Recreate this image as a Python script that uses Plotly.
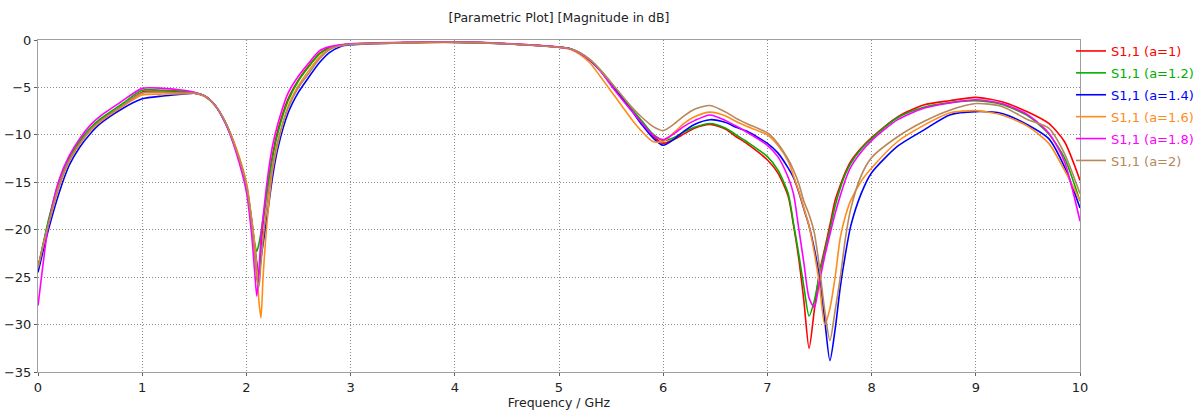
import plotly.graph_objects as go

# Frequency grid (GHz)
FREQ = [0, 0.05, 0.1, 0.2, 0.3, 0.4, 0.5, 0.6, 0.8, 1.0, 1.2, 1.4, 1.5, 1.6, 1.7, 1.8, 1.9,
        2.0, 2.05, 2.08, 2.1, 2.12, 2.14, 2.16, 2.2, 2.25, 2.3, 2.4, 2.5, 2.6, 2.7, 2.8, 2.9, 3.0,
        3.5, 4.0, 4.5, 5.1, 5.2, 5.3, 5.4, 5.5, 5.6, 5.7, 5.8, 5.9, 6.0, 6.1, 6.2, 6.3, 6.45, 6.6, 6.7, 6.8,
        7.0, 7.1, 7.2, 7.25, 7.3, 7.35, 7.4, 7.45, 7.5, 7.55, 7.6, 7.65, 7.7, 7.75, 7.8, 7.9, 8.0,
        8.25, 8.5, 8.75, 9.0, 9.25, 9.5, 9.7, 9.85, 10.0]

S11_A1 = [-24, -21.5, -19.2, -15.3, -12.6, -10.8, -9.4, -8.4, -7.0, -5.5, -5.4, -5.5, -5.6, -5.9, -6.9, -8.7, -11.5,
          -15.5, -19.5, -22.5, -24.5, -24.8, -21.8, -19.3, -15.8, -12.2, -9.6, -6.2, -4.2, -2.7, -1.4, -0.8, -0.55, -0.42,
          -0.28, -0.22, -0.4, -0.9, -1.4, -2.15, -3.25, -4.6, -6.0, -7.4, -8.8, -10.1, -10.9, -10.5, -9.9, -9.3, -8.9, -9.4, -10.2, -10.9,
          -12.65, -14.0, -16.5, -19.5, -23.0, -27.5, -32.5, -28.5, -24.5, -22.0, -19.5, -16.9, -15.3, -13.9, -12.8, -11.4, -10.3,
          -8.1, -6.85, -6.4, -6.05, -6.5, -7.6, -8.8, -10.7, -14.8]

S11_A12 = [-24, -21.5, -19.0, -15.0, -12.4, -10.6, -9.3, -8.3, -6.8, -5.3, -5.3, -5.4, -5.55, -5.9, -6.9, -8.7, -11.5,
           -15.3, -19.0, -21.5, -22.3, -21.5, -20.3, -18.8, -15.8, -12.5, -9.9, -6.4, -4.3, -2.8, -1.5, -0.85, -0.55, -0.42,
           -0.28, -0.22, -0.4, -0.9, -1.35, -2.1, -3.2, -4.5, -5.9, -7.3, -8.6, -9.9, -10.6, -10.3, -9.7, -9.2, -8.8, -9.3, -10.0, -10.7,
           -12.3, -13.7, -16.2, -19.3, -22.5, -26.0, -29.1, -27.5, -24.7, -22.3, -20.0, -17.5, -15.6, -14.1, -13.0, -11.5, -10.4,
           -8.2, -7.1, -6.6, -6.4, -6.8, -8.0, -9.9, -12.4, -17.0]

S11_A14 = [-24.5, -22.2, -20.0, -16.2, -13.2, -11.3, -9.9, -8.8, -7.3, -6.2, -5.9, -5.7, -5.6, -5.9, -6.9, -8.8, -11.6,
           -15.3, -19.0, -21.8, -23.5, -24.8, -23.0, -21.5, -18.5, -14.5, -11.5, -7.7, -5.5, -3.9, -2.4, -1.3, -0.7, -0.5,
           -0.3, -0.25, -0.4, -0.9, -1.4, -2.2, -3.3, -4.7, -6.1, -7.5, -9.0, -10.3, -11.1, -10.5, -9.6, -8.9, -8.4, -8.7, -9.2, -9.6,
           -10.9, -11.9, -13.5, -14.5, -16.0, -17.8, -19.6, -22.0, -25.0, -29.5, -33.8, -30.5, -26.0, -22.5, -19.6, -16.2, -14.0,
           -11.2, -9.5, -7.9, -7.55, -7.75, -8.96, -10.4, -13.35, -17.7]

S11_A16 = [-24, -21.7, -19.5, -15.6, -12.8, -11.0, -9.6, -8.6, -7.1, -5.8, -5.7, -5.65, -5.6, -5.95, -6.9, -8.7, -11.3,
           -15.0, -18.8, -21.5, -24.0, -27.5, -29.3, -25.0, -19.0, -13.8, -11.0, -7.0, -4.8, -3.2, -1.8, -0.95, -0.6, -0.45,
           -0.3, -0.25, -0.4, -0.95, -1.5, -2.45, -3.9, -5.4, -6.9, -8.4, -9.7, -10.7, -10.7, -9.8, -8.8, -8.1, -7.6, -8.0, -8.6, -9.1,
           -10.0, -11.1, -12.8, -14.3, -15.9, -17.7, -19.6, -22.4, -25.8, -30.0, -28.3, -25.0, -20.8, -18.5, -16.9, -14.9, -13.5,
           -10.7, -9.0, -7.7, -7.45, -7.9, -9.1, -10.9, -13.7, -16.9]

S11_A18 = [-28, -23.5, -19.5, -14.8, -12.2, -10.4, -9.0, -8.0, -6.5, -5.1, -5.1, -5.3, -5.5, -5.9, -6.9, -8.8, -11.8,
           -16.0, -20.5, -24.5, -27.0, -24.5, -20.8, -18.7, -14.8, -11.2, -8.9, -5.6, -3.8, -2.4, -1.15, -0.7, -0.5, -0.4,
           -0.25, -0.2, -0.38, -0.9, -1.4, -2.15, -3.3, -4.8, -6.2, -7.5, -8.8, -10.0, -10.5, -9.9, -9.1, -8.5, -7.9, -8.5, -9.07, -9.7,
           -11.1, -12.3, -14.5, -16.2, -19.8, -23.5, -27.2, -28.2, -25.5, -22.8, -20.5, -18.3, -16.4, -14.7, -13.4, -11.8, -10.6,
           -8.4, -7.2, -6.65, -6.3, -6.7, -7.9, -9.8, -12.8, -19.1]

S11_A2 = [-24, -21.6, -19.4, -15.4, -12.7, -10.9, -9.5, -8.5, -7.0, -5.6, -5.5, -5.6, -5.6, -5.9, -6.9, -8.7, -11.5,
          -15.3, -19.2, -22.5, -25.2, -26.0, -23.5, -21.0, -17.0, -13.3, -10.7, -7.2, -5.0, -3.5, -2.0, -1.0, -0.6, -0.45,
          -0.28, -0.22, -0.4, -0.9, -1.35, -2.1, -3.2, -4.5, -5.8, -7.1, -8.2, -9.1, -9.55, -8.9, -8.0, -7.3, -6.9, -7.6, -8.26, -8.8,
          -9.8, -10.9, -12.6, -13.7, -15.1, -17.0, -18.4, -20.3, -24.0, -28.5, -31.7, -28.5, -25.0, -20.8, -17.8, -14.3, -12.4,
          -10.2, -8.6, -7.4, -6.7, -7.0, -8.4, -9.3, -11.95, -16.2]

SERIES = [S11_A1, S11_A12, S11_A14, S11_A16, S11_A18, S11_A2]
NAMES = ["S1,1 (a=1)", "S1,1 (a=1.2)", "S1,1 (a=1.4)", "S1,1 (a=1.6)", "S1,1 (a=1.8)", "S1,1 (a=2)"]
COLORS = ["#FF0000", "#00B000", "#0000FF", "#FF8C1A", "#FF00FF", "#B8875A"]

X_TICKS = list(range(0, 11))
Y_TICKS = [0, -5, -10, -15, -20, -25, -30, -35]

FONT = "DejaVu Sans"
L, R, T, B = 38, 116, 40, 46
W, H = 1196, 418
PW, PH = W - L - R, H - T - B

fig = go.Figure()
for i, (vals, name, col) in enumerate(zip(SERIES, NAMES, COLORS)):
    fig.add_trace(go.Scatter(
        x=FREQ, y=vals, mode="lines",
        name=f'<span style="color:{col}">{name}</span>',
        legendgroup=f"g{i}",
        line=dict(color=col, width=1.6, shape="spline", smoothing=0.7),
    ))

axis_common = dict(
    showline=True, linecolor="#A0A0A0", linewidth=1, mirror=True,
    showgrid=True, gridcolor="#8C8C8C", griddash="1px,2px", gridwidth=1,
    ticks="outside", ticklen=3, tickcolor="#606060",
    tickfont=dict(family=FONT, size=13, color="#222222"),
    zeroline=False, automargin=False,
)

fig.update_layout(
    width=W, height=H,
    margin=dict(l=L, r=R, t=T, b=B, autoexpand=False),
    paper_bgcolor="white", plot_bgcolor="white",
    title=dict(text="[Parametric Plot] [Magnitude in dB]", x=(L + L + PW) / 2 / W, xanchor="center",
               y=1 - 18 / H, yanchor="middle", font=dict(family=FONT, size=12.5, color="#222222")),
    xaxis=dict(range=[0, 10], tickvals=X_TICKS, **axis_common,
               title=dict(text="Frequency / GHz", font=dict(family=FONT, size=12.5, color="#222222"), standoff=4)),
    yaxis=dict(range=[-35, 0], tickvals=Y_TICKS, **axis_common),
    legend=dict(x=(1071 - L) / PW, xanchor="left", y=1 + 4 / PH, yanchor="top", traceorder="grouped",
                tracegroupgap=2, font=dict(family=FONT, size=13), bgcolor="rgba(0,0,0,0)",
                itemwidth=30),
    showlegend=True,
)

fig.write_html("out.html", config={"displayModeBar": False},
               post_script="document.body.style.margin='0';document.body.style.overflow='hidden';")
